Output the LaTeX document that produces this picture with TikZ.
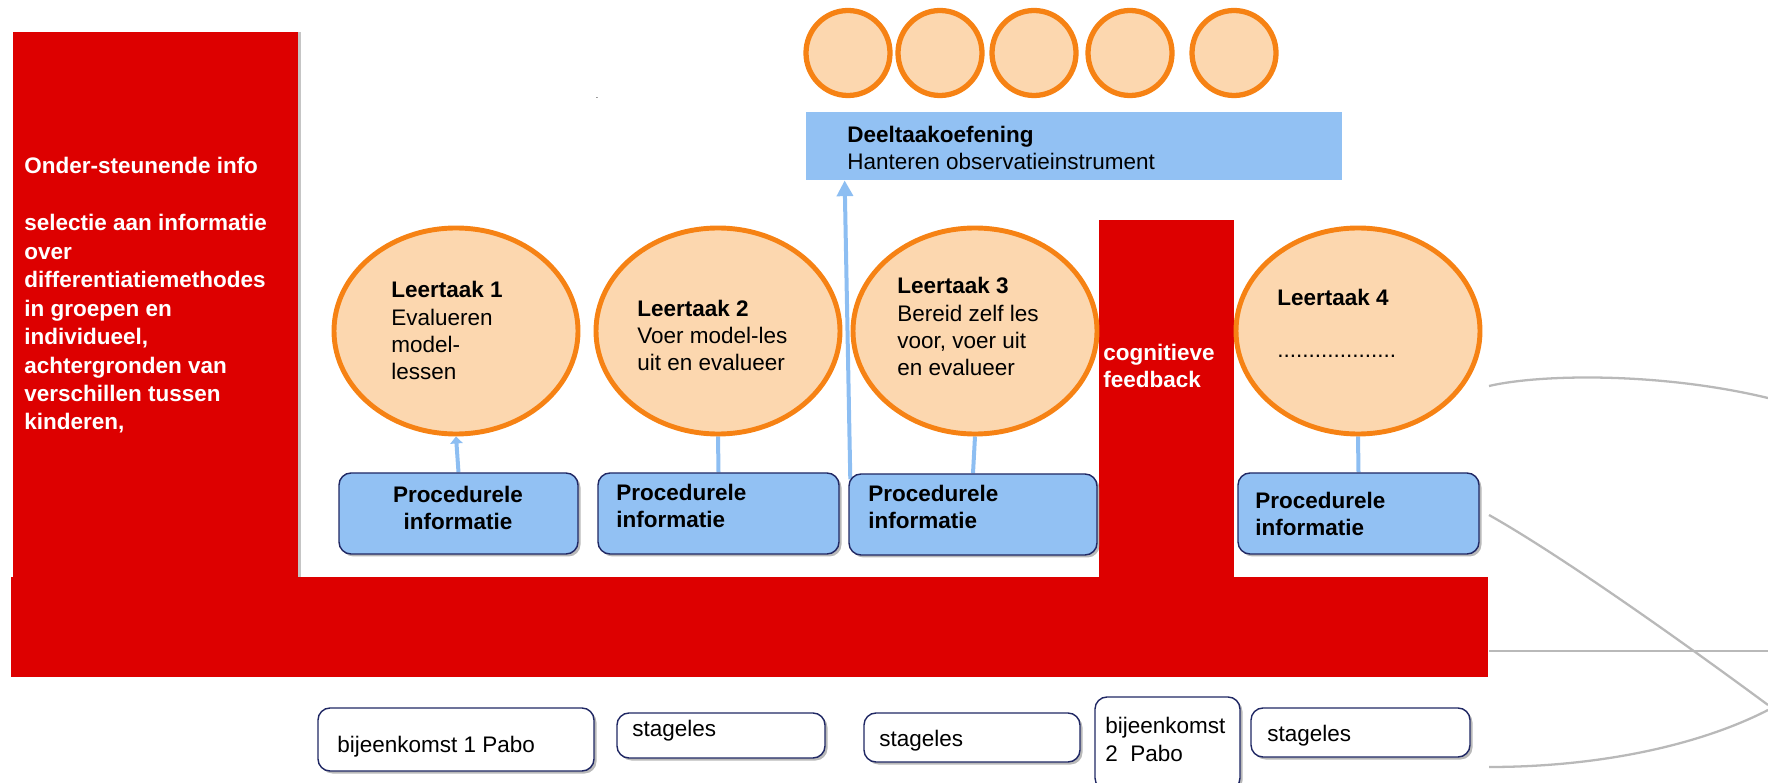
\documentclass[tikz,border=0pt]{standalone}
\usepackage{fontspec}
\setmainfont{Liberation Sans}
\usetikzlibrary{positioning, arrows.meta, shapes.geometric, shadows, calc, backgrounds}

\definecolor{BarRed}{RGB}{221,0,0}
\definecolor{TaskFill}{RGB}{252,215,175}
\definecolor{TaskLine}{RGB}{246,130,20}
\definecolor{InfoBlue}{RGB}{146,193,243}
\definecolor{LinkBlue}{RGB}{141,190,242}
\definecolor{FrameNavy}{RGB}{32,40,100}
\definecolor{OrbitGray}{RGB}{185,185,185}

\newcommand{\boxfont}{\fontsize{12.8}{15.6}\selectfont}

\tikzstyle{redbox} = [rectangle, fill=BarRed, inner sep=0pt]
\tikzstyle{task} = [ellipse, draw=TaskLine, fill=TaskFill, line width=2.8pt, inner sep=0pt]
\tikzstyle{procbox} = [rectangle, rounded corners=0.24cm, draw=FrameNavy, line width=0.8pt, fill=InfoBlue, drop shadow={shadow xshift=0.05cm, shadow yshift=-0.05cm, fill=black!55}]
\tikzstyle{meetbox} = [rectangle, rounded corners=0.24cm, draw=FrameNavy, line width=0.8pt, fill=white, drop shadow={shadow xshift=0.05cm, shadow yshift=-0.05cm, fill=black!55}]
\tikzstyle{boxtext} = [inner sep=0pt, align=left, anchor=base west, font=\boxfont]
\tikzstyle{whitetext} = [boxtext, text=white, font=\boxfont\bfseries]
\tikzstyle{link} = [line width=0.08cm, LinkBlue]
\tikzstyle{orbit} = [OrbitGray, line width=1.3pt]
\tikzset{boxsize/.style 2 args={minimum width=#1*0.02cm, minimum height=#2*0.02cm}}

\begin{document}
\begin{tikzpicture}[x=0.02cm, y=-0.02cm]
\useasboundingbox (0,0) rectangle (1768,783);

% Ondersteunende info (text nodes sit on their last baseline)
\node[redbox, boxsize={285}{545}, drop shadow={shadow xshift=0.06cm, shadow yshift=0cm, fill=black!45}] (Info) at (155.5,304.5) {};
\node[whitetext, font=\fontsize{12.8}{16.2}\selectfont\bfseries] (InfoText) at (24,430)
  {Onder-steunende info\\[16.2pt]selectie aan informatie\\over\\differentiatiemethodes\\in groepen en\\individueel,\\achtergronden van\\verschillen tussen\\kinderen,};

% Cognitieve feedback
\node[redbox, boxsize={135}{357}] (Cog) at (1166.5,398.5) {};
\node[whitetext] (CogText) at (1103,388) {cognitieve\\feedback};

% Bar
\fill[BarRed] (11,577) rectangle (1488,677);

% Deeltaak circles
\foreach \cx [count=\i] in {848,940,1034,1130,1234}
  \node[task, line width=3pt, boxsize={84}{85}] (D\i) at (\cx,53) {};

% Deeltaakoefening
\node[rectangle, fill=InfoBlue, boxsize={536}{68}] (Deel) at (1074,146) {};
\node[boxtext] (DeelText) at (847,170) {\textbf{Deeltaakoefening}\\Hanteren observatieinstrument};
\node[font=\tiny, inner sep=0pt] (Dot) at (597,98) {.};

% Leertaken
\node[task, boxsize={244}{206}] (L1) at (456,331) {};
\node[task, boxsize={244}{206}] (L2) at (718,331) {};
\node[task, boxsize={244}{206}] (L3) at (975,331) {};
\node[task, boxsize={244}{206}] (L4) at (1358,331) {};
\node[boxtext] (L1Text) at (391,380) {\textbf{Leertaak 1}\\Evalueren\\model-\\lessen};
\node[boxtext] (L2Text) at (637,371) {\textbf{Leertaak 2}\\Voer model-les\\uit en evalueer};
\node[boxtext] (L3Text) at (897,376) {\textbf{Leertaak 3}\\Bereid zelf les\\voor, voer uit\\en evalueer};
\node[boxtext] (L4Text) at (1277,358) {\textbf{Leertaak 4}\\[14.4pt]...................};

% Procedurele informatie
\node[procbox, boxsize={239}{81}] (P1) at (458.5,513.5) {};
\node[procbox, boxsize={241}{81}] (P2) at (718.5,513.5) {};
\node[procbox, boxsize={248}{81}] (P3) at (973,514.5) {};
\node[procbox, boxsize={241}{81}] (P4) at (1358.5,513.5) {};
\node[boxtext, anchor=base, align=center, font=\boxfont\bfseries] (P1Text) at (458,530) {Procedurele\\informatie};
\node[boxtext, font=\boxfont\bfseries] (P2Text) at (616,528) {Procedurele\\informatie};
\node[boxtext, font=\boxfont\bfseries] (P3Text) at (868,529) {Procedurele\\informatie};
\node[boxtext, font=\boxfont\bfseries] (P4Text) at (1255,536) {Procedurele\\informatie};

% Links
\begin{scope}[on background layer]
\draw[link, -{Triangle[width=7pt,length=4pt]}] (P1.north) -- (L1.south);
\draw[link] (P2.north) -- (L2.south);
\draw[link] (P3.north) -- (L3.south);
\draw[link] (P4.north) -- (L4.south);
\draw[link, -{Triangle[width=9pt,length=9pt]}] ($(P3.north west)+(2,6)$) -- ($(Deel.south west)+(39,0)$);
\end{scope}

% Bijeenkomsten
\node[meetbox, boxsize={276}{63}] (B1) at (456,739.5) {};
\node[meetbox, boxsize={208}{45}] (B2) at (721,735.5) {};
\node[meetbox, boxsize={216}{49}] (B3) at (972,737.5) {};
\node[meetbox, boxsize={145}{93}] (B4) at (1167.5,743.5) {};
\node[meetbox, boxsize={219}{49}] (B5) at (1360.5,732.5) {};
\node[boxtext] (B1Text) at (337,752) {bijeenkomst 1 Pabo};
\node[boxtext] (B2Text) at (632,736) {stageles};
\node[boxtext] (B3Text) at (879,746) {stageles};
\node[boxtext] (B4Text) at (1105,761) {bijeenkomst\\2\ \ Pabo};
\node[boxtext] (B5Text) at (1267,741) {stageles};

% Orbits
\draw[orbit] (1489,386) .. controls (1540,374) and (1660,372) .. (1768,398);
\draw[orbit] (1489,515) .. controls (1560,555) and (1680,640) .. (1768,705);
\draw[orbit] (1489,651) -- (1768,651);
\draw[orbit] (1489,767) .. controls (1600,767) and (1700,745) .. (1768,710);
\end{tikzpicture}
\end{document}
